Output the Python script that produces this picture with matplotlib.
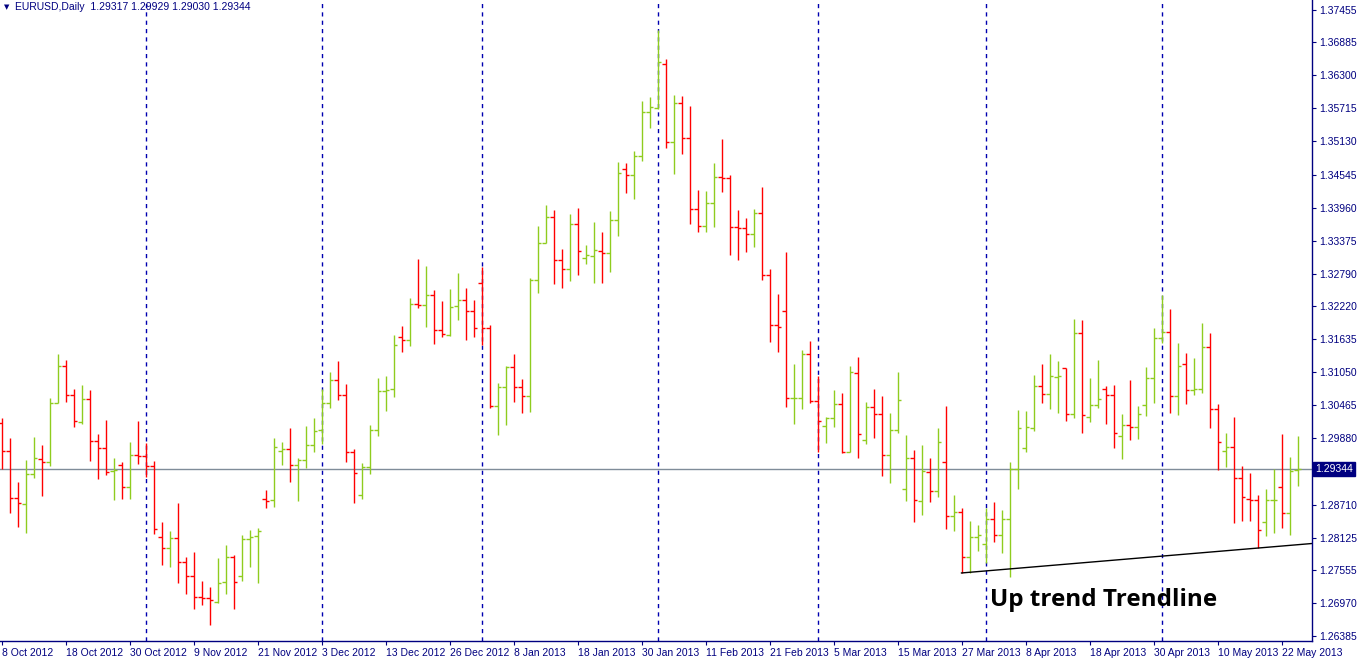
import numpy as np
import matplotlib.pyplot as plt

# EURUSD daily bars, 8 Oct 2012 .. 28 May 2013
opens = [1.3015, 1.2966, 1.2883, 1.2872, 1.2925, 1.2952, 1.2946, 1.3051, 1.3116, 1.3065,
         1.3017, 1.3058, 1.2984, 1.2971, 1.2930, 1.2941, 1.2902, 1.2959, 1.2957, 1.2939,
         1.2814, 1.2794, 1.2812, 1.2770, 1.2745, 1.2708, 1.2706, 1.2699, 1.2734, 1.2778,
         1.2745, 1.2810, 1.2815, 1.2881, 1.2879, 1.2966, 1.2969, 1.2941, 1.2950, 1.2976,
         1.3003, 1.3051, 1.3091, 1.3065, 1.2964, 1.2888, 1.2938, 1.3003, 1.3072, 1.3075,
         1.3167, 1.3162, 1.3226, 1.3224, 1.3242, 1.3180, 1.3171, 1.3222, 1.3233, 1.3213,
         1.3263, 1.3183, 1.3045, 1.3079, 1.3114, 1.3079, 1.3063, 1.3268, 1.3334, 1.3380,
         1.3304, 1.3288, 1.3367, 1.3307, 1.3310, 1.3319, 1.3316, 1.3374, 1.3464, 1.3454,
         1.3487, 1.3565, 1.3572, 1.3650, 1.3512, 1.3581, 1.3519, 1.3394, 1.3364, 1.3404,
         1.3450, 1.3449, 1.3362, 1.3360, 1.3350, 1.3387, 1.3277, 1.3189, 1.3213, 1.3060,
         1.3060, 1.3137, 1.3054, 1.3010, 1.3024, 1.3049, 1.2964, 1.3104, 1.2985, 1.3044,
         1.3031, 1.2959, 1.3003, 1.2899, 1.2954, 1.2877, 1.2928, 1.2895, 1.2946, 1.2851,
         1.2858, 1.2778, 1.2814, 1.2801, 1.2846, 1.2817, 1.2846, 1.2934, 1.2971, 1.3007,
         1.3081, 1.3067, 1.3097, 1.3113, 1.3031, 1.3175, 1.3026, 1.3047, 1.3075, 1.3065,
         1.2992, 1.3012, 1.3009, 1.3047, 1.3095, 1.3166, 1.3176, 1.3063, 1.3120, 1.3074,
         1.3075, 1.3150, 1.3040, 1.2966, 1.2973, 1.2918, 1.2881, 1.2879, 1.2840, 1.2879,
         1.2902, 1.2856, 1.29317]
highs = [1.3024, 1.2989, 1.2911, 1.2950, 1.2991, 1.2976, 1.3060, 1.3137, 1.3127, 1.3075,
         1.3083, 1.3074, 1.2996, 1.3021, 1.2954, 1.2946, 1.2982, 1.3019, 1.2980, 1.2948,
         1.2840, 1.2824, 1.2874, 1.2778, 1.2787, 1.2736, 1.2725, 1.2777, 1.2800, 1.2781,
         1.2817, 1.2826, 1.2830, 1.2897, 1.2989, 1.2982, 1.3007, 1.2954, 1.3010, 1.3024,
         1.3075, 1.3106, 1.3125, 1.3084, 1.2969, 1.2945, 1.3012, 1.3095, 1.3098, 1.3171,
         1.3187, 1.3236, 1.3305, 1.3293, 1.3251, 1.3231, 1.3252, 1.3281, 1.3254, 1.3233,
         1.3291, 1.3189, 1.3086, 1.3116, 1.3137, 1.3093, 1.3272, 1.3364, 1.3401, 1.3392,
         1.3323, 1.3385, 1.3396, 1.3330, 1.3371, 1.3353, 1.3390, 1.3477, 1.3475, 1.3496,
         1.3585, 1.3592, 1.3710, 1.3659, 1.3595, 1.3593, 1.3576, 1.3427, 1.3426, 1.3475,
         1.3517, 1.3454, 1.3392, 1.3378, 1.3394, 1.3433, 1.3288, 1.3243, 1.3318, 1.3120,
         1.3144, 1.3160, 1.3098, 1.3026, 1.3074, 1.3068, 1.3116, 1.3132, 1.3053, 1.3075,
         1.3063, 1.3033, 1.3106, 1.2994, 1.2968, 1.2976, 1.2954, 1.3007, 1.3045, 1.2888,
         1.2865, 1.2842, 1.2835, 1.2865, 1.2875, 1.2861, 1.2946, 1.3038, 1.3037, 1.3100,
         1.3120, 1.3137, 1.3125, 1.3113, 1.3199, 1.3197, 1.3095, 1.3127, 1.3081, 1.3083,
         1.3031, 1.3091, 1.3045, 1.3114, 1.3183, 1.3242, 1.3217, 1.3157, 1.3139, 1.3130,
         1.3192, 1.3175, 1.3049, 1.2998, 1.3026, 1.2939, 1.2927, 1.2888, 1.2899, 1.2934,
         1.2996, 1.2955, 1.29929]
lows = [1.2934, 1.2856, 1.2832, 1.2821, 1.2918, 1.2886, 1.2939, 1.3051, 1.3053, 1.3008,
        1.3014, 1.2948, 1.2916, 1.2923, 1.2879, 1.2881, 1.2881, 1.2943, 1.2920, 1.2819,
        1.2764, 1.2761, 1.2733, 1.2713, 1.2687, 1.2694, 1.2658, 1.2697, 1.2713, 1.2687,
        1.2736, 1.2761, 1.2733, 1.2865, 1.2867, 1.2941, 1.2911, 1.2877, 1.2936, 1.2964,
        1.2978, 1.3042, 1.3056, 1.2946, 1.2874, 1.2881, 1.2925, 1.2992, 1.3037, 1.3061,
        1.3141, 1.3152, 1.3219, 1.3185, 1.3155, 1.3167, 1.3169, 1.3197, 1.3162, 1.3167,
        1.3153, 1.3042, 1.2994, 1.3012, 1.3053, 1.3033, 1.3035, 1.3245, 1.3334, 1.3261,
        1.3254, 1.3266, 1.3277, 1.3296, 1.3263, 1.3263, 1.3282, 1.3346, 1.3422, 1.3411,
        1.3479, 1.3537, 1.3570, 1.3502, 1.3456, 1.3491, 1.3367, 1.3353, 1.3353, 1.3362,
        1.3424, 1.3312, 1.3304, 1.3318, 1.3327, 1.3268, 1.3159, 1.3141, 1.3044, 1.3014,
        1.3040, 1.3051, 1.2964, 1.2980, 1.3008, 1.2962, 1.2964, 1.2954, 1.2978, 1.2989,
        1.2922, 1.2909, 1.2998, 1.2877, 1.2840, 1.2853, 1.2875, 1.2884, 1.2828, 1.2824,
        1.2750, 1.2750, 1.2789, 1.2768, 1.2805, 1.2786, 1.2743, 1.2899, 1.2964, 1.3001,
        1.3051, 1.3040, 1.3033, 1.3019, 1.3024, 1.2998, 1.3017, 1.3042, 1.3014, 1.2971,
        1.2952, 1.2985, 1.2987, 1.3028, 1.3051, 1.3157, 1.3033, 1.3030, 1.3049, 1.3065,
        1.3068, 1.3007, 1.2932, 1.2938, 1.2839, 1.2842, 1.2842, 1.2794, 1.2815, 1.2821,
        1.2830, 1.2817, 1.29030]
closes = [1.2966, 1.2883, 1.2874, 1.2925, 1.2954, 1.2946, 1.3051, 1.3116, 1.3065, 1.3019,
          1.3058, 1.2984, 1.2971, 1.2929, 1.2932, 1.2902, 1.2959, 1.2957, 1.2939, 1.2828,
          1.2794, 1.2812, 1.2770, 1.2745, 1.2708, 1.2706, 1.2702, 1.2733, 1.2778, 1.2734,
          1.2810, 1.2814, 1.2824, 1.2877, 1.2973, 1.2969, 1.2941, 1.2950, 1.2976, 1.3001,
          1.3051, 1.3091, 1.3065, 1.2964, 1.2927, 1.2938, 1.3003, 1.3072, 1.3074, 1.3153,
          1.3162, 1.3226, 1.3224, 1.3242, 1.3180, 1.3173, 1.3220, 1.3233, 1.3213, 1.3183,
          1.3183, 1.3045, 1.3079, 1.3114, 1.3079, 1.3063, 1.3268, 1.3334, 1.3380, 1.3304,
          1.3288, 1.3367, 1.3319, 1.3312, 1.3321, 1.3316, 1.3374, 1.3457, 1.3454, 1.3487,
          1.3565, 1.3574, 1.3654, 1.3512, 1.3581, 1.3519, 1.3394, 1.3364, 1.3404, 1.3450,
          1.3449, 1.3362, 1.3360, 1.3350, 1.3387, 1.3277, 1.3189, 1.3185, 1.3060, 1.3060,
          1.3137, 1.3054, 1.3019, 1.3024, 1.3049, 1.2964, 1.3106, 1.2996, 1.3044, 1.3031,
          1.2959, 1.3003, 1.3056, 1.2954, 1.2879, 1.2930, 1.2895, 1.2982, 1.2851, 1.2858,
          1.2778, 1.2814, 1.2817, 1.2846, 1.2817, 1.2846, 1.2934, 1.3007, 1.3009, 1.3081,
          1.3067, 1.3098, 1.3098, 1.3031, 1.3175, 1.3030, 1.3047, 1.3058, 1.3065, 1.2998,
          1.3012, 1.3009, 1.3031, 1.3095, 1.3166, 1.3176, 1.3063, 1.3116, 1.3074, 1.3075,
          1.3150, 1.3040, 1.2982, 1.2973, 1.2918, 1.2885, 1.2879, 1.2826, 1.2879, 1.2879,
          1.2856, 1.2930, 1.29344]

date_labels = ["8 Oct 2012", "18 Oct 2012", "30 Oct 2012", "9 Nov 2012", "21 Nov 2012",
               "3 Dec 2012", "13 Dec 2012", "26 Dec 2012", "8 Jan 2013", "18 Jan 2013",
               "30 Jan 2013", "11 Feb 2013", "21 Feb 2013", "5 Mar 2013", "15 Mar 2013",
               "27 Mar 2013", "8 Apr 2013", "18 Apr 2013", "30 Apr 2013", "10 May 2013",
               "22 May 2013"]
label_step = 8
month_starts = [18, 40, 60, 82, 102, 123, 145]   # first bar of Nov .. May
price_ticks = [1.37455, 1.36885, 1.36300, 1.35715, 1.35130, 1.34545, 1.33960, 1.33375,
               1.32790, 1.32220, 1.31635, 1.31050, 1.30465, 1.29880, 1.28710, 1.28125,
               1.27555, 1.26970, 1.26385]
trend_bars = [120, 157]   # trendline drawn through these two lows

W, H = 1361, 659
navy = "#000080"
green = "#8fcc1f"
red = "#ff0000"
font = "Liberation Sans"

fig = plt.figure(figsize=(W / 100, H / 100), dpi=100)
ax = fig.add_axes([0, 1 - 641 / H, 1312 / W, 641 / H])

n = len(opens)
x = np.arange(n)
o, h, l, c = map(np.array, (opens, highs, lows, closes))
cols = np.where(c >= o, green, red)
tick = 0.4
lw = 1.0
ax.vlines(x, l, h, colors=cols, lw=lw, snap=True)
ax.hlines(o, x - tick, x, colors=cols, lw=lw, snap=True)
ax.hlines(c, x, x + tick, colors=cols, lw=lw, snap=True)

# month separators
for m in month_starts:
    ax.axvline(m, color="#0000b0", lw=1.0, ls=(0, (3, 3)), zorder=0, snap=True)

# current price line
last = closes[-1]
ax.axhline(last, color="#7f8c99", lw=1.0, zorder=0, snap=True)

# trendline
xa, xb = trend_bars
slope = (lows[xb] - lows[xa]) / (xb - xa)
x_end = 163.9
ax.plot([xa, x_end], [lows[xa], lows[xa] + slope * (x_end - xa)], color="black", lw=1.0)
ax.text(123.6, 1.2702, "Up trend Trendline", fontsize=17.5, fontweight="bold",
        family="Open Sans", va="center", ha="left", color="black")

ax.set_xlim(-0.1875, 163.8125)
ax.set_ylim(1.26297, 1.37632)

for s in ("left", "top"):
    ax.spines[s].set_visible(False)
for s in ("right", "bottom"):
    ax.spines[s].set_color(navy)
    ax.spines[s].set_linewidth(1.0)

ax.yaxis.tick_right()
ax.set_yticks(price_ticks)
ax.set_yticklabels([f"{p:.5f}" for p in price_ticks], family=font)
ax.tick_params(axis="y", colors=navy, labelcolor=navy, labelsize=7.5, length=3, width=0.8, pad=2)

xt = np.arange(len(date_labels)) * label_step
ax.set_xticks(xt)
ax.set_xticklabels(date_labels, ha="left", family=font)
ax.tick_params(axis="x", colors=navy, labelcolor=navy, labelsize=7.5, length=3, width=0.8, pad=2)

# current price box on the axis
ax.annotate(f"{last:.5f}", xy=(1.0, last), xycoords=("axes fraction", "data"),
            xytext=(2, 0), textcoords="offset points", va="center", ha="left",
            fontsize=7.5, color="white", family=font,
            bbox=dict(boxstyle="square,pad=0.2", fc=navy, ec=navy))

fig.text(4 / W, 1 - 7 / H, "▼", fontsize=5, color=navy, va="center")
fig.text(15 / W, 1 - 7 / H,
         f"EURUSD,Daily  {opens[-1]:.5f} {highs[-1]:.5f} {lows[-1]:.5f} {closes[-1]:.5f}",
         fontsize=7.5, color=navy, va="center", family=font)

fig.savefig("out.png", dpi=100)
